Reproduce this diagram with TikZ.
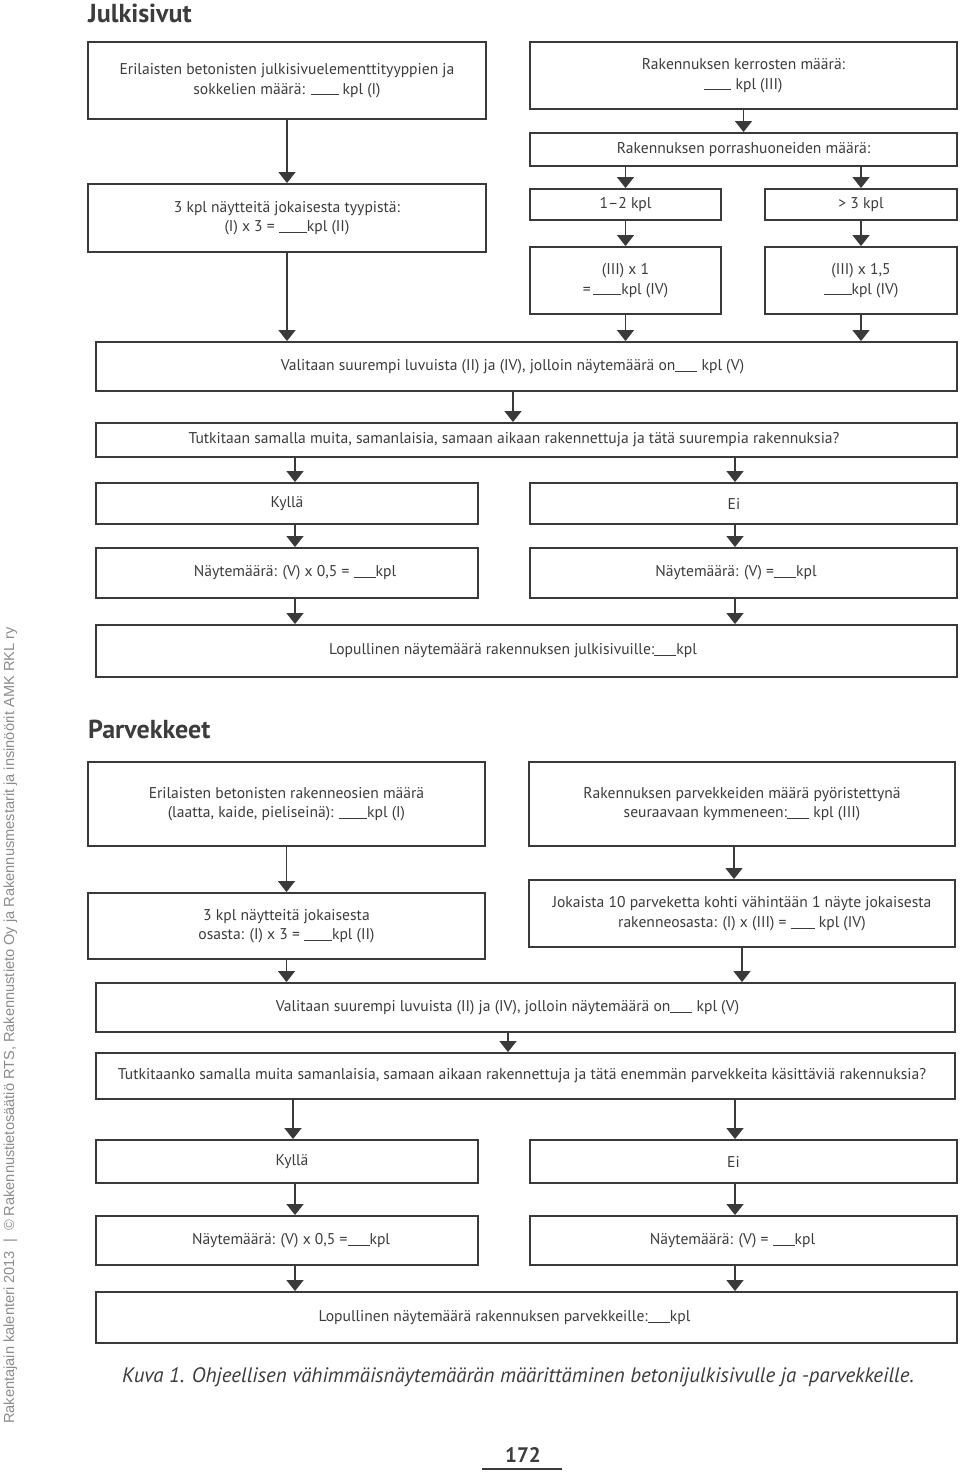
\documentclass[tikz,border=0pt]{standalone}
\usepackage{fontspec}
\setmainfont{PT Sans}
\newfontfamily\sidefont{Liberation Sans}
\usetikzlibrary{arrows.meta}
\definecolor{lc}{HTML}{3A3A3A}
\definecolor{tc}{HTML}{3C3C3C}
\definecolor{sc}{HTML}{8C8C8C}
\newcommand{\blnk}[1][26pt]{\rule[-1.2pt]{#1}{0.8pt}}
\newcommand{\bx}[6]{\node[box, minimum width={#4-#2}, minimum height={#5-#3}] (#1) at ({(#2+#4)/2},{(#3+#5)/2}) {#6};}
\tikzset{
  box/.style={draw=lc, line width=1.9pt, inner sep=0pt, align=center, text=tc, font=\fontsize{15.6}{19.5}\selectfont},
  arr/.style={draw=lc, line width=1.3pt, -{Triangle[width=17pt,length=11pt]}},
  title/.style={anchor=base west, inner sep=0pt, text=tc, font=\fontsize{26}{30}\bfseries\selectfont}
}
\begin{document}
\begin{tikzpicture}[x=1pt,y=-1pt]
\fill[white] (0,0) rectangle (960,1473);
\useasboundingbox (0,0) rectangle (960,1473);
\foreach \xx in {293,295,508,513,734,735,742}{\coordinate (x\xx) at (\xx,0);}
% Julkisivut
\node[title] (t1) at (88,22) {Julkisivut};
\bx{A}{88}{42}{486}{119}{Erilaisten betonisten julkisivuelementtityyppien ja\\ sokkelien määrä: \blnk[28pt]\ kpl (I)}
\bx{B}{88}{184}{486}{252}{3 kpl näytteitä jokaisesta tyypistä:\\ (I) x 3 = \blnk[28pt]kpl (II)}
\bx{C}{530}{42}{957}{109}{Rakennuksen kerrosten määrä:\\ \blnk[27pt]\ kpl (III)}
\bx{D}{530}{133}{957}{166}{Rakennuksen porrashuoneiden määrä:}
\bx{E}{530}{189}{721}{220}{1–2 kpl}
\bx{F}{765}{189}{957}{220}{> 3 kpl}
\bx{G}{530}{247}{721}{314}{(III) x 1\\ =\,\blnk[28pt]kpl (IV)}
\bx{H}{765}{247}{957}{314}{(III) x 1,5\\ \blnk[28pt]kpl (IV)}
\bx{V1}{96}{342}{957}{391}{Valitaan suurempi luvuista (II) ja (IV), jolloin näytemäärä on\blnk[22pt]\ kpl (V)\hspace*{28pt}}
\bx{T1}{96}{423}{957}{457}{Tutkitaan samalla muita, samanlaisia, samaan aikaan rakennettuja ja tätä suurempia rakennuksia?\hspace*{25pt}}
\bx{K1}{96}{483}{478}{524}{Kyllä}
\bx{E1}{530}{483}{957}{524}{Ei\hspace*{19pt}}
\bx{N1L}{96}{548}{478}{598}{\hspace*{16pt}Näytemäärä: (V) x 0,5 = \blnk[22pt]kpl}
\bx{N1R}{530}{548}{957}{598}{Näytemäärä: (V) =\blnk[22pt]kpl\hspace*{15pt}}
\bx{L1}{96}{625}{957}{677}{Lopullinen näytemäärä rakennuksen julkisivuille:\blnk[22pt]kpl\hspace*{27pt}}
\draw[arr] (A.south) -- (B.north);
\draw[arr] (B.south) -- (B.south |- V1.north);
\draw[arr] (C.south) -- (D.north);
\draw[arr] (E.north |- D.south) -- (E.north);
\draw[arr] (F.north |- D.south) -- (F.north);
\draw[arr] (E.south) -- (G.north);
\draw[arr] (F.south) -- (H.north);
\draw[arr] (G.south) -- (G.south |- V1.north);
\draw[arr] (H.south) -- (H.south |- V1.north);
\draw[arr] (V1.south -| x513) -- (T1.north -| x513);
\draw[arr] (T1.south -| x295) -- (K1.north -| x295);
\draw[arr] (T1.south -| x735) -- (E1.north -| x735);
\draw[arr] (K1.south -| x295) -- (N1L.north -| x295);
\draw[arr] (E1.south -| x735) -- (N1R.north -| x735);
\draw[arr] (N1L.south -| x295) -- (L1.north -| x295);
\draw[arr] (N1R.south -| x735) -- (L1.north -| x735);
% Parvekkeet
\node[title] (t2) at (88,738) {Parvekkeet};
\bx{P1}{88}{762}{485}{846}{Erilaisten betonisten rakenneosien määrä\\ (laatta, kaide, pieliseinä): \blnk[28pt]kpl (I)}
\bx{P2}{529}{762}{955}{846}{Rakennuksen parvekkeiden määrä pyöristettynä\\ seuraavaan kymmeneen:\blnk[22pt]\ kpl (III)}
\bx{P3}{88}{893}{485}{959}{3 kpl näytteitä jokaisesta\\ osasta: (I) x 3 = \blnk[28pt]kpl (II)}
\bx{P4}{529}{880}{955}{947}{Jokaista 10 parveketta kohti vähintään 1 näyte jokaisesta\\ rakenneosasta: (I) x (III) = \blnk[24pt]\ kpl (IV)}
\bx{V2}{96}{983}{955}{1032}{Valitaan suurempi luvuista (II) ja (IV), jolloin näytemäärä on\blnk[22pt]\ kpl (V)\hspace*{36pt}}
\bx{T2}{96}{1053}{955}{1099}{Tutkitaanko samalla muita samanlaisia, samaan aikaan rakennettuja ja tätä enemmän parvekkeita käsittäviä rakennuksia?\hspace*{7pt}}
\bx{K2}{96}{1140}{478}{1183}{\hspace*{10pt}Kyllä}
\bx{E2}{530}{1140}{957}{1183}{Ei\hspace*{20pt}}
\bx{N2L}{96}{1216}{478}{1265}{\hspace*{8pt}Näytemäärä: (V) x 0,5 =\blnk[22pt]kpl}
\bx{N2R}{530}{1216}{957}{1265}{Näytemäärä: (V) = \blnk[22pt]kpl\hspace*{22pt}}
\bx{L2}{96}{1292}{957}{1343}{Lopullinen näytemäärä rakennuksen parvekkeille:\blnk[22pt]kpl\hspace*{44pt}}
\draw[arr] (P1.south) -- (P3.north);
\draw[arr] (P2.south -| x734) -- (P4.north -| x734);
\draw[arr] (P3.south) -- (P3.south |- V2.north);
\draw[arr] (P4.south -| x742) -- (V2.north -| x742);
\draw[arr] (V2.south -| x508) -- (T2.north -| x508);
\draw[arr] (T2.south -| x293) -- (K2.north -| x293);
\draw[arr] (T2.south -| x735) -- (E2.north -| x735);
\draw[arr] (K2.south -| x295) -- (N2L.north -| x295);
\draw[arr] (E2.south -| x735) -- (N2R.north -| x735);
\draw[arr] (N2L.south -| x295) -- (L2.north -| x295);
\draw[arr] (N2R.south -| x735) -- (L2.north -| x735);
% caption, page number, side text
\node[anchor=base west, inner sep=0pt, text=tc, font=\fontsize{20.9}{24}\itshape\selectfont] (cap) at (122,1382) {Kuva 1. Ohjeellisen vähimmäisnäytemäärän määrittäminen betonijulkisivulle ja -parvekkeille.};
\node[anchor=base, inner sep=0pt, text=tc, font=\fontsize{21}{24}\bfseries\selectfont] (pg) at (523,1462) {172};
\coordinate (r1) at (482,1469);
\coordinate (r2) at (562,1469);
\draw[lc, line width=2pt] (r1) -- (r2);
\node[rotate=90, anchor=base west, inner sep=0pt, text=sc, font=\sidefont\fontsize{14.6}{17}\selectfont] (side) at (14,1424) {Rakentajain kalenteri 2013 \ | \ © Rakennustietosäätiö RTS, Rakennustieto Oy ja Rakennusmestarit ja insinöörit AMK RKL ry};
\end{tikzpicture}
\end{document}
